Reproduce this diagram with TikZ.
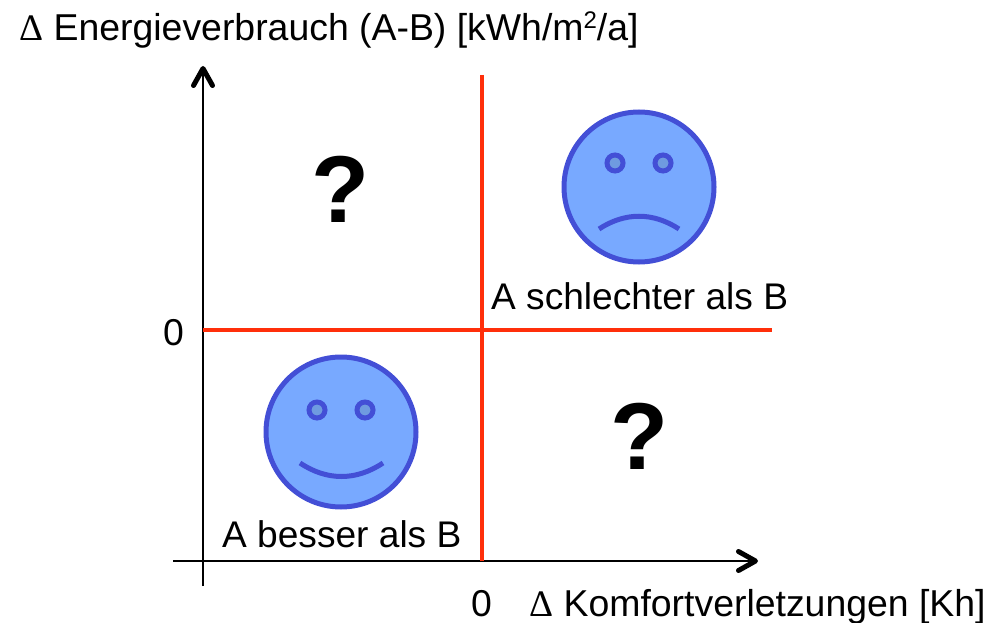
\documentclass[tikz,border=0pt]{standalone}
\usepackage{fontspec}
\setmainfont{Liberation Sans}
\newfontfamily\deltafont{Liberation Serif}
\usetikzlibrary{arrows.meta}
\definecolor{facefill}{HTML}{78A9FF}
\definecolor{faceline}{HTML}{434FD6}
\definecolor{eyefill}{HTML}{6F9BE0}
\definecolor{redline}{HTML}{FF2F0A}
\tikzset{
  axis/.style={line width=2.4pt, -{Straight Barb[length=17pt,width=19pt,line width=5pt,round]}},
  quadrant/.style={draw=redline, line width=3.4pt},
  face/.style={circle, draw=faceline, fill=facefill, line width=5pt, minimum size=150pt, inner sep=0pt},
  eye/.style={circle, draw=faceline, fill=eyefill, line width=5pt, minimum size=16pt, inner sep=0pt},
  mouth/.style={draw=faceline, line width=5pt},
  label/.style={font=\fontsize{37.4}{37.4}\selectfont, inner sep=0pt, anchor=base west, text=black},
  shortlabel/.style={label, font=\fontsize{37.1}{37.1}\selectfont},
  query/.style={font=\fontsize{95}{95}\selectfont\bfseries, inner sep=0pt, text=black},
}
\begin{document}
\begin{tikzpicture}[x=1pt, y=-1pt]
  \useasboundingbox (0,0) rectangle (997,623);
  % axes
  \coordinate (ybottom) at (203,586);
  \coordinate (ytop) at (203,66);
  \coordinate (xleft) at (173,561);
  \coordinate (xright) at (758,561);
  \draw[axis] (ybottom) -- (ytop);
  \draw[axis] (xleft) -- (xright);
  % quadrant lines
  \coordinate (vtop) at (482,75);
  \coordinate (vbottom) at (482,561);
  \coordinate (hleft) at (203,330);
  \coordinate (hright) at (772,330);
  \draw[quadrant] (vtop) -- (vbottom);
  \draw[quadrant] (hleft) -- (hright);
  % sad face
  \node[face] (sad) at (639,187) {};
  \node[eye] (sadleft) at (615,163) {};
  \node[eye] (sadright) at (663,163) {};
  \coordinate (sadm1) at (599,229);
  \coordinate (sadm2) at (679,229);
  \draw[mouth] (sadm1) .. controls (625,212) and (653,212) .. (sadm2);
  % happy face
  \node[face] (happy) at (341,432) {};
  \node[eye] (happyleft) at (317,410) {};
  \node[eye] (happyright) at (365,410) {};
  \coordinate (happym1) at (300,463);
  \coordinate (happym2) at (383,463);
  \draw[mouth] (happym1) .. controls (327,481) and (356,481) .. (happym2);
  % texts
  \node[query] (q1) at (341,189) {?};
  \node[query] (q2) at (640,436) {?};
  \node[label] (ylabel) at (19,41) {{\deltafont Δ} Energieverbrauch (A-B) [kWh/m\raisebox{12pt}{\fontsize{24}{24}\selectfont 2}/a]};
  \node[label] (xlabel) at (529,616) {{\deltafont Δ} Komfortverletzungen [Kh]};
  \node[label] (xzero) at (471,616) {0};
  \node[label] (yzero) at (163,345) {0};
  \node[shortlabel] (worse) at (491,309) {A schlechter als B};
  \node[shortlabel] (better) at (222,547) {A besser als B};
\end{tikzpicture}
\end{document}
